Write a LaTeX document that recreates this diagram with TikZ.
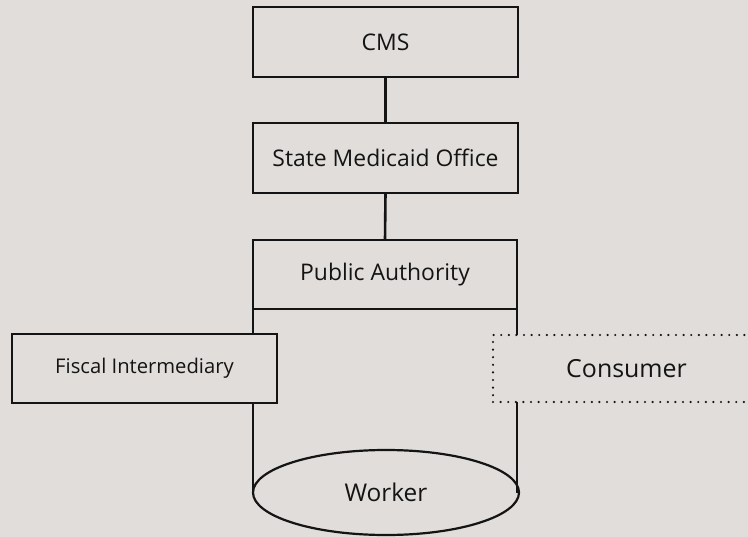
\documentclass[tikz,border=0pt]{standalone}
\usepackage{fontspec}
\setmainfont{Open Sans}
\usetikzlibrary{shapes.geometric}
\definecolor{bg}{RGB}{224,221,218}
\definecolor{ink}{RGB}{20,20,20}
\begin{document}
\begin{tikzpicture}[x=1bp,y=-1bp,
  box/.style={draw=ink,line width=2.6bp,fill=bg,rectangle,outer sep=0pt,inner sep=0pt,text=ink,font=\fontsize{23}{26}\selectfont},
  smallbox/.style={box,font=\fontsize{20.3}{23}\selectfont},
  dotbox/.style={draw=ink,line width=2.4bp,line cap=round,dash pattern=on 0pt off 7.6bp,fill=bg,rectangle,outer sep=0pt,inner sep=0pt,text=ink,font=\fontsize{25}{28}\selectfont},
  oval/.style={draw=ink,line width=2.2bp,fill=bg,ellipse,outer sep=0pt,inner sep=0pt,text=ink,font=\fontsize{24.5}{28}\selectfont},
  link/.style={draw=ink,line width=2.6bp}]
\fill[bg] (0,0) rectangle (748,537);
\useasboundingbox (0,0) rectangle (748,537);
\node[box,minimum width=265bp,minimum height=70bp] (cms) at (385.5,42) {CMS};
\node[box,minimum width=265bp,minimum height=70bp] (smo) at (385.5,158) {State Medicaid Office};
\node[box,minimum width=264bp,minimum height=69bp] (pa) at (385,274.5) {Public Authority};
\node[oval,minimum width=266bp,minimum height=85bp] (worker) at (386,492.5) {Worker};
\draw[link] (cms.south) -- (smo.north);
\draw[link] (smo.south) -- (pa.north);
\draw[link] (pa.south west) -- (pa.south west |- worker.west);
\draw[link] (pa.south east) -- (pa.south east |- worker.east);
\node[smallbox,minimum width=265bp,minimum height=69bp] (fiscal) at (144.5,368.5) {Fiscal Intermediary};
\node[dotbox,minimum width=267bp,minimum height=67bp] (consumer) at (626.5,368.5) {Consumer};
\end{tikzpicture}
\end{document}
